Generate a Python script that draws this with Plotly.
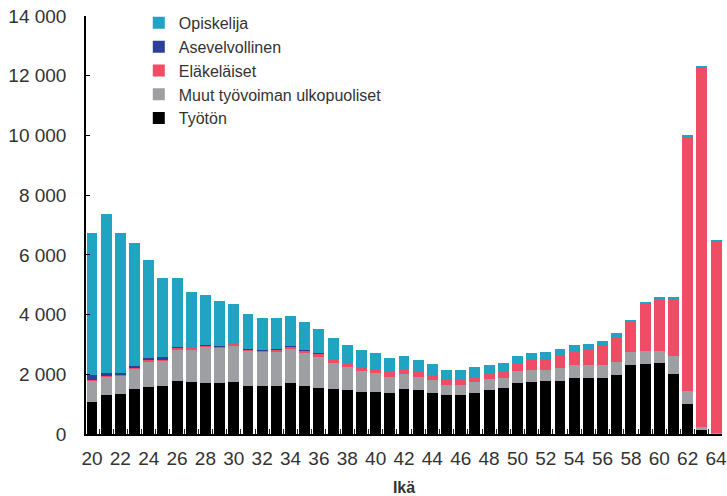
import plotly.graph_objects as go

ages = list(range(20, 65))

tyoton = [1080, 1310, 1330, 1510, 1590, 1610, 1780, 1750, 1725, 1700, 1735,
          1610, 1610, 1610, 1715, 1610, 1555, 1510, 1490, 1400, 1410,
          1380, 1520, 1465, 1390, 1290, 1290, 1390, 1465, 1535, 1715,
          1735, 1760, 1790, 1860, 1870, 1860, 1970, 2295, 2330, 2365,
          2005, 1010, 145, 10]
muut = [710, 620, 630, 670, 850, 865, 1040, 1070, 1175, 1165, 1200,
        1170, 1125, 1145, 1130, 1100, 1030, 865, 740, 705, 630,
        545, 495, 450, 415, 355, 345, 355, 370, 345, 380,
        405, 390, 415, 435, 450, 460, 440, 440, 435, 425,
        615, 435, 90, 10]
elakelaiset = [10, 20, 30, 40, 55, 35, 80, 70, 80, 70, 80,
               65, 75, 80, 90, 100, 115, 100, 100, 135, 120,
               145, 160, 180, 155, 180, 200, 160, 190, 215, 270,
               325, 350, 440, 485, 535, 625, 840, 1005, 1580, 1735,
               1925, 8525, 12040, 6455]
asevelvollinen = [190, 90, 60, 55, 35, 55, 15, 5, 5, 5, 5,
                  5, 5, 5, 5, 5, 5, 0, 0, 0, 0,
                  0, 0, 0, 0, 0, 0, 0, 0, 0, 0,
                  0, 0, 0, 0, 0, 0, 0, 0, 0, 0,
                  0, 0, 0, 0]
opiskelija = [4730, 5330, 4690, 4130, 3290, 2655, 2305, 1875, 1655, 1520, 1350,
              1185, 1065, 1050, 1005, 940, 815, 740, 640, 580, 560,
              460, 445, 390, 380, 325, 315, 325, 280, 290, 255,
              255, 255, 210, 200, 160, 155, 145, 90, 80, 45,
              25, 20, 45, 20]

y_tickvals = [0, 2000, 4000, 6000, 8000, 10000, 12000, 14000]
y_ticktext = ["0", "2 000", "4 000", "6 000", "8 000", "10 000", "12 000", "14 000"]
x_tickvals = list(range(20, 65, 2))
x_ticktext = [str(v) for v in x_tickvals]

series = [
    ("Työtön", tyoton, "#000000"),
    ("Muut työvoiman ulkopuoliset", muut, "#9d9fa2"),
    ("Eläkeläiset", elakelaiset, "#ef4d65"),
    ("Asevelvollinen", asevelvollinen, "#2b4199"),
    ("Opiskelija", opiskelija, "#21a3c2"),
]

fig = go.Figure()
for name, vals, col in series:
    fig.add_trace(go.Bar(x=ages, y=vals, name=name, marker=dict(color=col, line=dict(width=0))))

fig.update_layout(
    width=727, height=496,
    barmode="stack", bargap=0.23,
    plot_bgcolor="white", paper_bgcolor="white",
    margin=dict(l=86, r=5, t=16, b=62, autoexpand=False),
    font=dict(family="Liberation Sans, Arial, sans-serif", color="#333333"),
    legend=dict(
        traceorder="reversed",
        x=0.083, y=1.024, xanchor="left", yanchor="top",
        font=dict(size=16, color="#333333"),
        bgcolor="rgba(0,0,0,0)",
    ),
    showlegend=True,
)

fig.update_xaxes(
    range=[19.58, 64.42],
    tickvals=x_tickvals, ticktext=x_ticktext,
    ticks="", showgrid=False,
    showline=True, linecolor="#000000", linewidth=1.5,
    tickfont=dict(family="Liberation Sans Narrow, Arial Narrow, sans-serif", size=19, color="#333333"),
    ticklabelstandoff=6,
    ticklabeloverflow="allow",
    minor=dict(ticks="inside", tick0=19.5, dtick=1, ticklen=5, tickcolor="#222222", tickwidth=1, showgrid=False),
    title=dict(text="<b>Ikä</b>", font=dict(family="Liberation Sans Narrow, Arial Narrow, sans-serif", size=16, color="#333333"), standoff=18),
    zeroline=False,
)
fig.update_yaxes(
    range=[0, 14000],
    tickvals=y_tickvals, ticktext=y_ticktext,
    ticks="inside", ticklen=4, tickcolor="#000000", tickwidth=1,
    showgrid=False, zeroline=False,
    showline=True, linecolor="#000000", linewidth=1.5,
    tickfont=dict(size=19, color="#333333"),
    ticklabelstandoff=14,
    ticklabeloverflow="allow",
)

fig.write_html(
    "out.html",
    config={"displayModeBar": False},
    post_script="document.body.style.margin='0';document.body.style.overflow='hidden';",
)
